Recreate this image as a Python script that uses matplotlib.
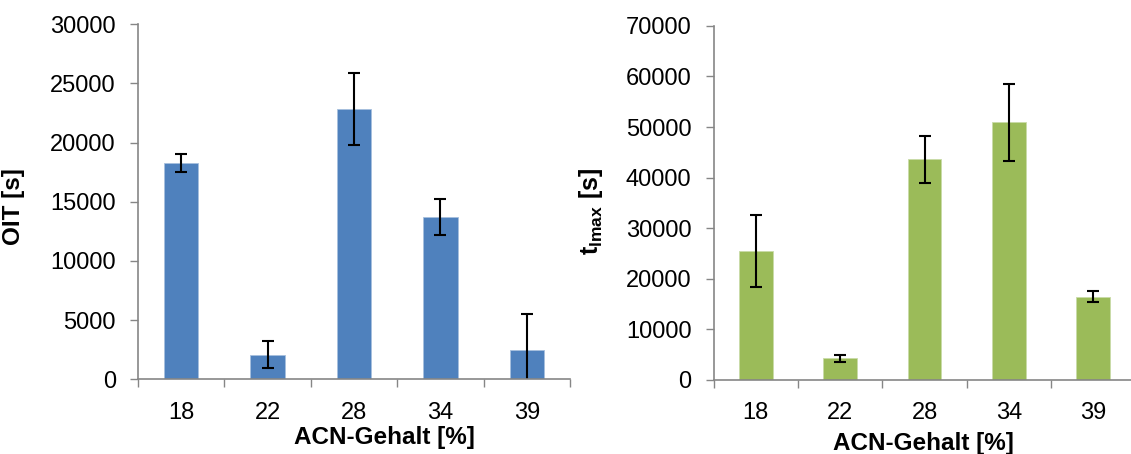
import numpy as np
import matplotlib.pyplot as plt

plt.rcParams['font.family'] = ['Liberation Sans', 'DejaVu Sans']
plt.rcParams['mathtext.fontset'] = 'custom'
plt.rcParams['mathtext.rm'] = 'Liberation Sans'
plt.rcParams['mathtext.bf'] = 'Liberation Sans:bold'

# data
acn = ['18', '22', '28', '34', '39']
oit = [18250, 2060, 22850, 13700, 2510]
oit_err = [750, 1140, 3060, 1540, 3040]
tmax = [25550, 4280, 43650, 50950, 16480]
tmax_err = [7080, 730, 4660, 7580, 1150]

AXIS_GREY = '#868686'


def style_axes(ax, ymax, ystep):
    x = np.arange(len(acn))
    ax.set_xlim(-0.5, len(acn) - 0.5)
    ax.set_ylim(0, ymax)
    ax.set_yticks(np.arange(0, ymax + 1, ystep))
    ax.set_xticks(x)
    ax.set_xticklabels(acn)
    ax.set_xticks(np.arange(-0.5, len(acn)), minor=True)
    ax.tick_params(axis='x', which='major', length=0, pad=16, labelsize=17)
    ax.tick_params(axis='x', which='minor', length=6, width=1, color=AXIS_GREY,
                   direction='out')
    ax.tick_params(axis='y', length=5.5, width=1, color=AXIS_GREY, pad=10.5,
                   labelsize=17)
    for side in ['top', 'right']:
        ax.spines[side].set_visible(False)
    for side in ['left', 'bottom']:
        ax.spines[side].set_color(AXIS_GREY)
        ax.spines[side].set_linewidth(1.2)


fig = plt.figure(figsize=(11.31, 4.54), dpi=100)

ax1 = fig.add_axes([0.122, 0.1645, 0.382, 0.782])
x = np.arange(len(acn))
ax1.bar(x, oit, width=0.4, color='#4F81BD', edgecolor='#A7C0DE', linewidth=0.6)
ax1.errorbar(x, oit, yerr=oit_err, fmt='none', ecolor='black', elinewidth=1.5,
             capsize=4.5, capthick=1.5)
style_axes(ax1, 30000, 5000)
ax1.set_ylabel('OIT [s]', fontsize=17.5, fontweight='bold')
ax1.yaxis.set_label_coords(-0.262, 0.488)
ax1.set_xlabel('ACN-Gehalt [%]', fontsize=17.5, fontweight='bold', va='center')
ax1.xaxis.set_label_coords(0.57, -0.165)

ax2 = fig.add_axes([0.631, 0.163, 0.373, 0.780])
ax2.bar(x, tmax, width=0.4, color='#9BBB59', edgecolor='#C9DBA8', linewidth=0.6)
ax2.errorbar(x, tmax, yerr=tmax_err, fmt='none', ecolor='black', elinewidth=1.5,
             capsize=4.5, capthick=1.5)
style_axes(ax2, 70000, 10000)
ax2.set_ylabel(r'$\mathbf{t_{lmax}}$ [s]', fontsize=18, fontweight='bold')
ax2.yaxis.set_label_coords(-0.257, 0.477)
ax2.set_xlabel('ACN-Gehalt [%]', fontsize=17.5, fontweight='bold', va='center')
ax2.xaxis.set_label_coords(0.497, -0.178)

fig.savefig('out.png', dpi=100)
